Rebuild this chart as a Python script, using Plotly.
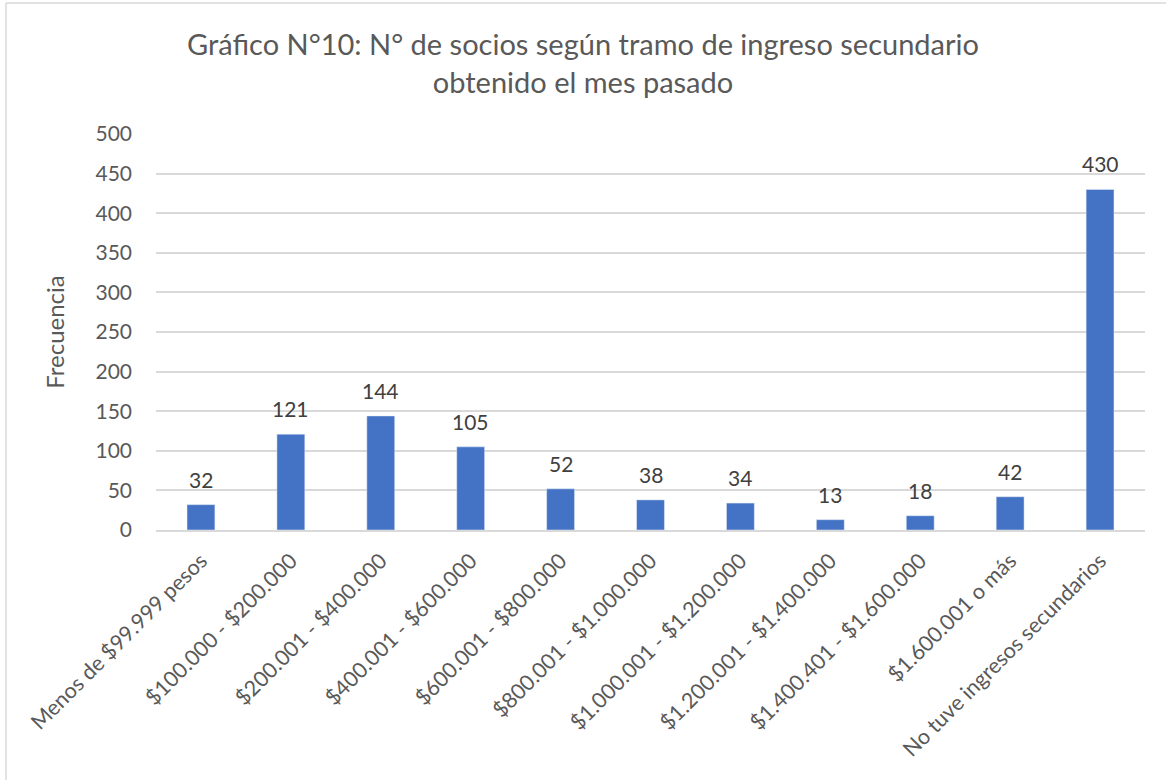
import plotly.graph_objects as go

categories = [
    "Menos de $99.999 pesos",
    "$100.000 - $200.000",
    "$200.001 - $400.000",
    "$400.001 - $600.000",
    "$600.001 - $800.000",
    "$800.001 - $1.000.000",
    "$1.000.001 - $1.200.000",
    "$1.200.001 - $1.400.000",
    "$1.400.401 - $1.600.000",
    "$1.600.001 o más",
    "No tuve ingresos secundarios",
]
values = [32, 121, 144, 105, 52, 38, 34, 13, 18, 42, 430]
y_ticks = [0, 50, 100, 150, 200, 250, 300, 350, 400, 450, 500]

FONT = "Lato, 'Open Sans', sans-serif"
GRAY = "#595959"

fig = go.Figure(
    go.Bar(
        x=categories,
        y=values,
        marker=dict(color="#4472C4"),
    )
)

annotations = [
    dict(
        x=c,
        y=v,
        xref="x",
        yref="y",
        text=str(v),
        showarrow=False,
        yanchor="bottom",
        yshift=11,
        font=dict(family=FONT, size=21, color="#404040"),
    )
    for c, v in zip(categories, values)
]

fig.update_layout(
    width=1166,
    height=780,
    paper_bgcolor="white",
    plot_bgcolor="white",
    bargap=0.69,
    margin=dict(l=156, r=21, t=134, b=250),
    title=dict(
        text="Gráfico N°10: N° de socios según tramo de ingreso secundario<br>obtenido el mes pasado",
        x=0.5,
        xanchor="center",
        y=0.929,
        yanchor="middle",
        font=dict(family=FONT, size=29, color=GRAY),
    ),
    font=dict(family=FONT, color=GRAY),
    showlegend=False,
    annotations=annotations,
    shapes=[
        dict(type="line", xref="paper", yref="paper",
             x0=-0.1517, x1=-0.1517, y0=-0.64, y1=1.3308,
             line=dict(color="#d9d9d9", width=1.5)),
        dict(type="line", xref="paper", yref="paper",
             x0=-0.1517, x1=1.03, y0=1.3308, y1=1.3308,
             line=dict(color="#d9d9d9", width=1.5)),
    ],
)

fig.update_xaxes(
    tickangle=-45,
    tickfont=dict(family=FONT, size=21.5, color=GRAY),
    showline=True,
    linecolor="#d9d9d9",
    linewidth=1.5,
    ticks="",
    showgrid=False,
    ticklabelstandoff=8,
)
fig.update_yaxes(
    range=[0, 500],
    tickvals=y_ticks,
    tickfont=dict(family=FONT, size=21, color=GRAY),
    showgrid=True,
    gridcolor="#d9d9d9",
    gridwidth=1.5,
    zeroline=False,
    ticks="",
    ticklabelstandoff=23,
    title=dict(text="Frecuencia", font=dict(family=FONT, size=24, color=GRAY), standoff=24),
)

fig.write_html(
    "out.html",
    config={"displayModeBar": False},
    post_script="document.body.style.margin='0px';",
)
